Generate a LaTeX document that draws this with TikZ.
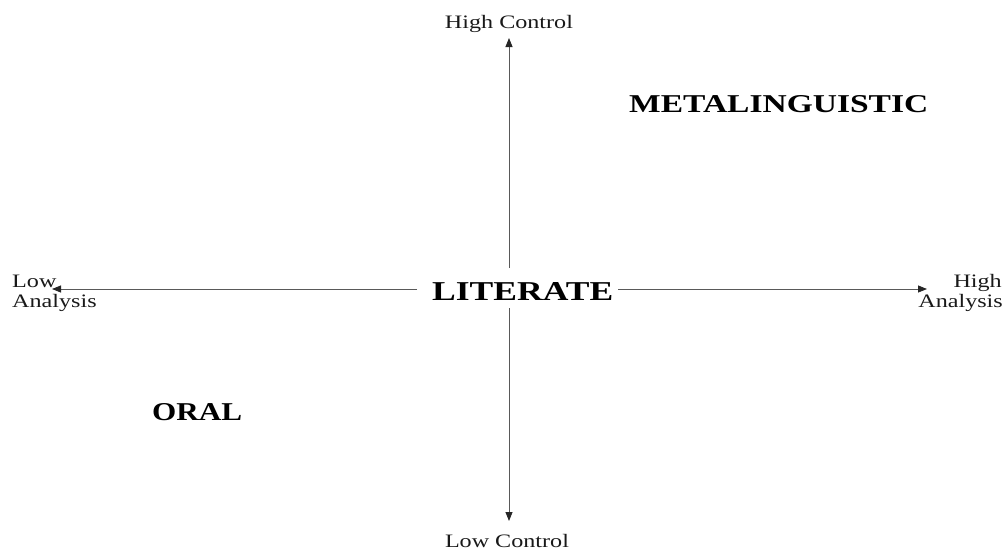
\documentclass[tikz,border=0pt]{standalone}
\usepackage{fontspec}
\setmainfont{Liberation Serif}
\newfontfamily\wideserif[FakeStretch=1.27]{Liberation Serif}
\usetikzlibrary{arrows.meta}
\begin{document}
\begin{tikzpicture}[x=1pt,y=-1pt,
  axis/.style={draw=black!65, line width=0.8pt, -{Triangle[length=9pt,width=7pt,color=black!85]}},
  lbl/.style={font=\wideserif\fontsize{19}{21}\selectfont, inner sep=0pt, text=black!90},
  big/.style={inner sep=0pt, text=black, font=\bfseries}]
\useasboundingbox (0,0) rectangle (1007,554);
% labels
\node[lbl, anchor=base] (hc) at (509,28) {High Control};
\node[lbl, anchor=base] (lc) at (507,547) {Low Control};
\node[lbl, anchor=base west] (low) at (12,287) {Low};
\node[lbl, anchor=base west] (lowa) at (12,307) {Analysis};
\node[lbl, anchor=base east] (high) at (1002,287) {High};
\node[lbl, anchor=base east] (higha) at (1003,307) {Analysis};
% regions
\node[big, anchor=base west] (lit) at (432,300) {\resizebox{181pt}{18pt}{LITERATE}};
\node[big, anchor=base west] (meta) at (629,112) {\resizebox{299pt}{17pt}{METALINGUISTIC}};
\node[big, anchor=base west] (oral) at (152,420) {\resizebox{90pt}{17pt}{ORAL}};
% axis points
\coordinate (vtip) at (509,38);
\coordinate (vup) at (509,268);
\coordinate (vdn) at (509,308);
\coordinate (vbot) at (509,521);
\coordinate (hlft) at (417,289);
\coordinate (htipl) at (52,289);
\coordinate (hrgt) at (618,289);
\coordinate (htipr) at (927,289);
% axes
\draw[axis] (vup) -- (vtip);
\draw[axis] (vdn) -- (vbot);
\draw[axis] (hlft) -- (htipl);
\draw[axis] (hrgt) -- (htipr);
\end{tikzpicture}
\end{document}
